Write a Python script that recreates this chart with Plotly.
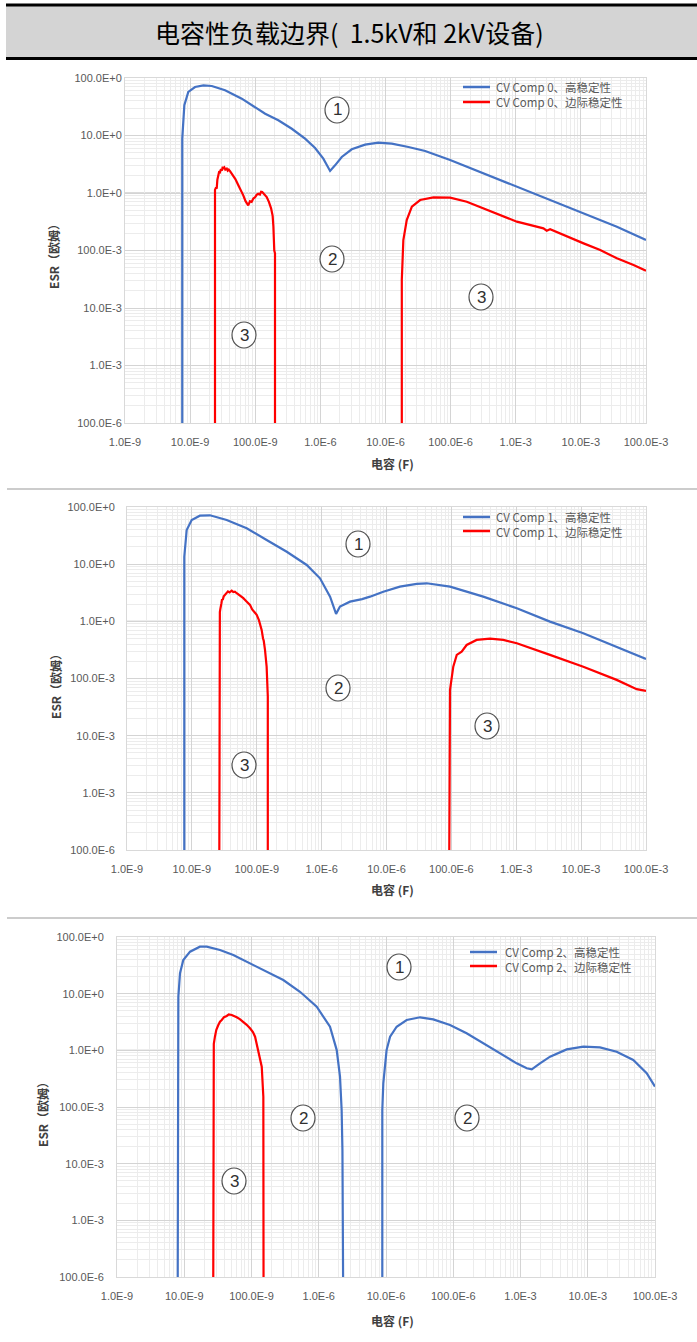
import plotly.graph_objects as go

W, H = 697, 1342

# ---------------- text / ticks ----------------
title_text = "电容性负载边界(  1.5kV和 2kV设备)"
x_title = "电容 (F)"
y_title = "ESR（欧姆）"
x_tickvals = [1e-9, 1e-8, 1e-7, 1e-6, 1e-5, 1e-4, 1e-3, 1e-2, 1e-1]
x_ticktext = ["1.0E-9", "10.0E-9", "100.0E-9", "1.0E-6", "10.0E-6",
              "100.0E-6", "1.0E-3", "10.0E-3", "100.0E-3"]
y_tickvals = [1e-4, 1e-3, 1e-2, 1e-1, 1, 10, 100]
y_ticktext = ["100.0E-6", "1.0E-3", "10.0E-3", "100.0E-3", "1.0E+0", "10.0E+0", "100.0E+0"]
legend_names = [
    ("CV Comp 0、高稳定性", "CV Comp 0、边际稳定性"),
    ("CV Comp 1、高稳定性", "CV Comp 1、边际稳定性"),
    ("CV Comp 2、高稳定性", "CV Comp 2、边际稳定性"),
]

# ---------------- data: capacitance (F), ESR (ohm) ----------------
# Comp 0
c0_high_c = [7.57e-9, 7.57e-9, 8.15e-9, 9.38e-9, 1.19e-8, 1.60e-8, 2.15e-8, 3.44e-8, 6.21e-8,
             9.93e-8, 1.42e-7, 2.26e-7, 3.64e-7, 5.82e-7, 8.30e-7, 1.11e-6, 1.41e-6, 1.68e-6,
             2.13e-6, 3.03e-6, 4.86e-6, 7.78e-6, 1.25e-5, 2.25e-5, 4.06e-5, 9.82e-5, 3.19e-4,
             1.04e-3, 3.37e-3, 1.10e-2, 3.57e-2, 1.0e-1]
c0_high_esr = [1e-4, 8.8, 33.5, 57.1, 69.7, 74.6, 72.6, 61.1, 43.7,
               31.3, 23.9, 18.4, 13.1, 8.79, 6.07, 3.95, 2.42, 3.03,
               4.23, 5.75, 6.92, 7.50, 7.20, 6.31, 5.37, 3.75, 2.20,
               1.29, 0.755, 0.444, 0.259, 0.152]

c0_marg_a_c = [2.41e-8, 2.41e-8, 2.50e-8, 2.56e-8, 2.62e-8, 2.70e-8, 2.80e-8, 2.88e-8, 2.98e-8,
               3.08e-8, 3.17e-8, 3.24e-8, 3.35e-8, 3.47e-8, 3.65e-8, 3.78e-8, 3.92e-8, 4.10e-8,
               4.30e-8, 4.61e-8, 4.95e-8, 5.50e-8, 5.95e-8, 6.55e-8, 7.10e-8, 7.50e-8, 7.80e-8,
               8.30e-8, 8.80e-8, 9.35e-8, 1.00e-7, 1.05e-7, 1.11e-7, 1.18e-7, 1.23e-7, 1.28e-7,
               1.35e-7, 1.42e-7, 1.50e-7, 1.62e-7, 1.75e-7, 1.85e-7, 1.90e-7, 1.96e-7, 2.01e-7,
               2.01e-7]
c0_marg_a_esr = [1e-4, 1.13, 1.25, 1.19, 1.70, 2.05, 2.40, 2.32, 2.60,
                 2.45, 2.85, 2.70, 2.80, 2.55, 2.65, 2.45, 2.55, 2.40,
                 2.20, 2.03, 1.75, 1.36, 1.15, 0.91, 0.72, 0.66, 0.61,
                 0.72, 0.70, 0.80, 0.85, 0.93, 0.97, 0.94, 1.05, 1.04,
                 0.97, 0.90, 0.85, 0.70, 0.54, 0.40, 0.259, 0.10, 0.0893,
                 1e-4]

c0_marg_b_c = [1.78e-5, 1.78e-5, 1.88e-5, 2.12e-5, 2.54e-5, 3.40e-5, 5.45e-5, 9.82e-5, 1.77e-4,
               3.19e-4, 5.75e-4, 1.04e-3, 2.66e-3, 2.99e-3, 3.37e-3, 6.08e-3, 1.10e-2, 1.98e-2,
               3.57e-2, 6.43e-2, 1.0e-1]
c0_marg_b_esr = [1e-4, 0.0307, 0.152, 0.339, 0.578, 0.755, 0.841, 0.830, 0.706,
                 0.542, 0.414, 0.317, 0.243, 0.221, 0.234, 0.174, 0.133, 0.102,
                 0.0731, 0.0560, 0.0446]

# Comp 1
c1_high_c = [7.64e-9, 7.64e-9, 8.32e-9, 9.93e-9, 1.33e-8, 1.90e-8, 3.44e-8, 7.00e-8, 1.42e-7,
             2.90e-7, 5.89e-7, 9.44e-7, 1.35e-6, 1.67e-6, 1.92e-6, 2.74e-6, 4.20e-6, 5.57e-6,
             8.93e-6, 1.61e-5, 2.92e-5, 4.17e-5, 9.53e-5, 3.10e-4, 1.02e-3, 3.31e-3, 1.08e-2,
             3.53e-2, 1.0e-1]
c1_high_esr = [1e-4, 13.5, 39.6, 59.3, 70.5, 71.6, 59.3, 42.5, 26.5,
               16.5, 9.68, 5.66, 2.70, 1.35, 1.81, 2.21, 2.45, 2.70,
               3.30, 4.05, 4.51, 4.63, 4.05, 2.70, 1.69, 0.989, 0.619,
               0.361, 0.220]

c1_marg_a_c = [2.65e-8, 2.65e-8, 2.70e-8, 2.74e-8, 2.78e-8, 2.85e-8, 2.92e-8, 2.99e-8, 3.10e-8,
               3.25e-8, 3.44e-8, 3.60e-8, 3.80e-8, 4.11e-8, 4.35e-8, 4.60e-8, 4.91e-8, 5.40e-8,
               5.80e-8, 6.21e-8, 6.90e-8, 7.87e-8, 8.50e-8, 9.98e-8, 1.08e-7, 1.19e-7, 1.25e-7,
               1.28e-7, 1.34e-7, 1.42e-7, 1.48e-7, 1.48e-7]
c1_marg_a_esr = [1e-4, 0.708, 1.45, 1.62, 1.94, 2.05, 2.45, 2.37, 2.75,
                 2.95, 3.10, 3.35, 3.22, 3.44, 3.25, 3.30, 3.10, 2.90,
                 2.75, 2.54, 2.25, 1.94, 1.62, 1.30, 1.05, 0.708, 0.50,
                 0.46, 0.316, 0.161, 0.0483, 1e-4]

c1_marg_b_c = [9.29e-5, 9.29e-5, 9.53e-5, 1.07e-4, 1.21e-4, 1.44e-4, 1.72e-4, 2.45e-4, 3.94e-4,
               6.31e-4, 1.02e-3, 3.31e-3, 1.08e-2, 3.53e-2, 7.19e-2, 1.0e-1]
c1_marg_b_esr = [1e-4, 0.0423, 0.0632, 0.161, 0.259, 0.295, 0.386, 0.473, 0.499,
                 0.473, 0.414, 0.259, 0.161, 0.0946, 0.0650, 0.0607]

# Comp 2
c2_high_a_c = [8.00e-9, 8.17e-9, 8.65e-9, 9.68e-9, 1.22e-8, 1.71e-8, 2.16e-8, 3.40e-8, 5.36e-8,
               9.51e-8, 1.68e-7, 2.97e-7, 5.26e-7, 9.33e-7, 1.47e-6, 1.85e-6, 2.07e-6, 2.19e-6,
               2.25e-6, 2.30e-6]
c2_high_a_esr = [1e-4, 8.85, 22.9, 39.3, 55.1, 67.5, 67.5, 59.0, 48.1,
                 34.4, 24.4, 17.4, 10.8, 5.89, 2.61, 1.01, 0.343, 0.0885,
                 0.0174, 1e-4]

c2_high_b_c = [8.81e-6, 8.81e-6, 9.12e-6, 1.02e-5, 1.15e-5, 1.44e-5, 2.03e-5, 3.21e-5, 5.05e-5,
               8.95e-5, 1.58e-4, 2.80e-4, 4.95e-4, 8.77e-4, 1.24e-3, 1.47e-3, 1.95e-3, 2.75e-3,
               4.86e-3, 8.59e-3, 1.52e-2, 2.69e-2, 4.75e-2, 7.52e-2, 1.0e-1]
c2_high_b_esr = [1e-4, 0.0885, 0.262, 1.01, 1.74, 2.61, 3.43, 3.83, 3.52,
                 2.80, 2.00, 1.33, 0.887, 0.590, 0.482, 0.462, 0.590, 0.773,
                 1.04, 1.16, 1.13, 0.946, 0.675, 0.394, 0.229]

c2_marg_c = [2.70e-8, 2.70e-8, 2.75e-8, 2.86e-8, 3.00e-8, 3.21e-8, 3.40e-8, 3.61e-8, 3.90e-8,
             4.28e-8, 4.60e-8, 5.08e-8, 5.50e-8, 6.03e-8, 6.70e-8, 7.55e-8, 8.40e-8, 9.51e-8,
             1.05e-7, 1.13e-7, 1.20e-7, 1.26e-7, 1.35e-7, 1.42e-7, 1.50e-7, 1.51e-7]
c2_marg_esr = [1e-4, 1.01, 1.30, 1.74, 2.30, 2.80, 3.20, 3.43, 3.85,
               4.04, 4.30, 4.21, 4.05, 3.83, 3.55, 3.20, 2.85, 2.45,
               2.10, 1.74, 1.30, 1.01, 0.70, 0.515, 0.152, 1e-4]

BLUE = "#4472C4"
RED = "#FF0000"

panels = [
    dict(series=[(c0_high_c, c0_high_esr, BLUE), (c0_marg_a_c, c0_marg_a_esr, RED),
                 (c0_marg_b_c, c0_marg_b_esr, RED)],
         plot=(125, 646, 78, 423), lab_standoff=0,
         xt=(392, 463), yt=(54, 253),
         legend=(463, 494, 87, 102),
         circles=[("1", 337, 110), ("2", 332, 259), ("3", 244, 335), ("3", 481, 297)]),
    dict(series=[(c1_high_c, c1_high_esr, BLUE), (c1_marg_a_c, c1_marg_a_esr, RED),
                 (c1_marg_b_c, c1_marg_b_esr, RED)],
         plot=(127, 646, 507, 850), lab_standoff=9,
         xt=(392, 889), yt=(55, 683),
         legend=(463, 494, 517, 531),
         circles=[("1", 358, 544), ("2", 338, 688), ("3", 244, 765), ("3", 487, 726)]),
    dict(series=[(c2_high_a_c, c2_high_a_esr, BLUE), (c2_high_b_c, c2_high_b_esr, BLUE),
                 (c2_marg_c, c2_marg_esr, RED)],
         plot=(117, 655, 937, 1277), lab_standoff=10,
         xt=(392, 1320), yt=(42, 1112),
         legend=(470, 503, 952, 966),
         circles=[("1", 399, 967), ("2", 303, 1118), ("2", 467, 1118), ("3", 234, 1181)]),
]


def px(v):
    return v / W


def py(v):
    return 1 - v / H


fig = go.Figure()
shapes = []
annotations = []
layout = {}

TICK_FONT = dict(family="Liberation Sans, Arial, sans-serif", size=11, color="#595959")

for i, p in enumerate(panels):
    n = "" if i == 0 else str(i + 1)
    xa, ya = "x" + n, "y" + n
    for cx, ce, col in p["series"]:
        fig.add_trace(go.Scatter(x=cx, y=ce, mode="lines", xaxis=xa, yaxis=ya,
                                 line=dict(color=col, width=2.2), showlegend=False,
                                 hoverinfo="skip"))
    l, r, t, b = p["plot"]
    common_grid = dict(showgrid=True, gridcolor="#d4d4d4", gridwidth=1,
                       showline=True, linecolor="#d9d9d9", linewidth=1, mirror=True,
                       ticks="", ticklen=0, zeroline=False, tickfont=TICK_FONT,
                       automargin=False,
                       minor=dict(showgrid=True, gridcolor="#ececec", gridwidth=1, dtick="D1"))
    layout["xaxis" + n] = dict(type="log", range=[-9, -1], domain=[px(l), px(r)],
                               anchor=ya, tickmode="array", tickvals=x_tickvals,
                               ticktext=x_ticktext, ticklabelstandoff=9, **common_grid)
    layout["yaxis" + n] = dict(type="log", range=[-4, 2], domain=[py(b), py(t)],
                               anchor=xa, tickmode="array", tickvals=y_tickvals,
                               ticktext=y_ticktext, ticklabelstandoff=p["lab_standoff"],
                               **common_grid)
    # darker horizontal axis line crossing at 1 ohm
    shapes.append(dict(type="line", xref=xa + " domain", yref=ya, x0=0, x1=1, y0=1, y1=1,
                       line=dict(color="#b8b8b8", width=1.2), layer="below"))
    # axis titles
    annotations.append(dict(text="<b>" + x_title + "</b>", x=px(p["xt"][0]), y=py(p["xt"][1]),
                            xref="paper", yref="paper", showarrow=False,
                            xanchor="center", yanchor="middle",
                            font=dict(family="Noto Sans CJK SC", size=12, color="#404040")))
    annotations.append(dict(text="<b>" + y_title + "</b>", x=px(p["yt"][0]), y=py(p["yt"][1]),
                            xref="paper", yref="paper", showarrow=False, textangle=-90,
                            xanchor="center", yanchor="middle",
                            font=dict(family="Noto Sans CJK SC", size=12, color="#404040")))
    # legend (manual): two coloured samples + one two-line text block
    lx0, ltx, ly1, ly2 = p["legend"]
    for (col, yy) in [(BLUE, ly1), (RED, ly2)]:
        shapes.append(dict(type="line", xref="paper", yref="paper",
                           x0=px(lx0), x1=px(lx0 + 27), y0=py(yy), y1=py(yy),
                           line=dict(color=col, width=2.5)))
    annotations.append(dict(text=legend_names[i][0] + "<br>" + legend_names[i][1],
                            x=px(ltx), y=py((ly1 + ly2) / 2), xref="paper", yref="paper",
                            xanchor="left", yanchor="middle", align="left", showarrow=False,
                            font=dict(family="Noto Sans CJK SC", size=11.5, color="#595959")))
    # circled region labels
    for (lab, cxp, cyp) in p["circles"]:
        shapes.append(dict(type="circle", xref="paper", yref="paper",
                           xsizemode="pixel", ysizemode="pixel",
                           xanchor=px(cxp), yanchor=py(cyp), x0=-12, x1=12, y0=-13, y1=13,
                           line=dict(color="#505050", width=1.2), fillcolor="white"))
        annotations.append(dict(text=lab, x=px(cxp), y=py(cyp), xref="paper", yref="paper",
                                showarrow=False, xanchor="center", yanchor="middle",
                                font=dict(family="Liberation Sans, Arial", size=17,
                                          color="#303030")))

# header box
shapes.append(dict(type="rect", xref="paper", yref="paper", x0=px(6), x1=1, y0=py(58), y1=py(6),
                   fillcolor="#d4d4d4", line=dict(width=0), layer="below"))
shapes.append(dict(type="line", xref="paper", yref="paper", x0=px(6), x1=1, y0=py(5), y1=py(5),
                   line=dict(color="black", width=3)))
shapes.append(dict(type="line", xref="paper", yref="paper", x0=px(6), x1=1, y0=py(58.5),
                   y1=py(58.5), line=dict(color="black", width=3)))
annotations.append(dict(text=title_text, x=px(349), y=py(32), xref="paper", yref="paper",
                        showarrow=False, xanchor="center", yanchor="middle",
                        font=dict(family="Noto Sans CJK SC", size=25, color="black")))
# separators between panels
for yy in [489, 918]:
    shapes.append(dict(type="line", xref="paper", yref="paper", x0=px(7), x1=1, y0=py(yy),
                       y1=py(yy), line=dict(color="#cccccc", width=2)))

fig.update_layout(template="none", width=W, height=H, margin=dict(l=0, r=0, t=0, b=0),
                  paper_bgcolor="white", plot_bgcolor="white", showlegend=False,
                  shapes=shapes, annotations=annotations, **layout)

fig.write_html("out.html", config={"displayModeBar": False},
               post_script="document.body.style.margin='0px';")
